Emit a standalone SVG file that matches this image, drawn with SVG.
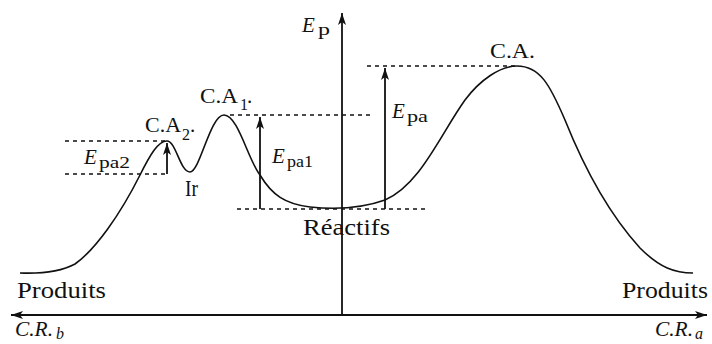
<svg xmlns="http://www.w3.org/2000/svg" width="712" height="344" viewBox="0 0 712 344">
<style>
.ax{stroke:#111;stroke-width:1.8;fill:none}
.cv{stroke:#111;stroke-width:1.6;fill:none}
.dash{stroke:#111;stroke-width:1.6;stroke-dasharray:4 4;fill:none}
.t{font-family:"Liberation Serif","Times New Roman",serif;font-size:23px;fill:#111}
.m{font-size:21px}
.i{font-style:italic}
.s{font-size:16px}
</style>
<defs>
<marker id="ah" markerUnits="userSpaceOnUse" markerWidth="14" markerHeight="10" refX="12" refY="4" orient="auto-start-reverse">
<path d="M0,0 L12,4 L0,8 L3,4 z" fill="#111"/>
</marker>
</defs>
<rect width="712" height="344" fill="#fff"/>
<g id="guides">
<line class="dash" x1="367" y1="66" x2="515" y2="66"/>
<line class="dash" x1="230" y1="115" x2="372" y2="115"/>
<line class="dash" x1="65" y1="141" x2="166" y2="141"/>
<line class="dash" x1="65" y1="174" x2="167" y2="174"/>
<line class="dash" x1="237" y1="209" x2="426" y2="209"/>
</g>
<g id="axes">
<line class="ax" x1="342" y1="315" x2="342" y2="13" marker-end="url(#ah)"/>
<line class="ax" x1="11" y1="315" x2="707" y2="315" marker-start="url(#ah)" marker-end="url(#ah)"/>
</g>
<g id="curve">
<path class="cv" d="M20,273 C45,274 62,271 75,264 C95,250 120,215 140,175 C150,155 158,141 167,141 C176,141 180,172 190,172 C200,172 210,115 224,115 C238,115 248,160 260,175 C272,195 285,204 310,207 C330,209 360,209 385,200 C420,185 440,135 465,100 C480,80 500,66 517,66 C540,66 550,85 565,120 C585,170 610,215 640,248 C660,268 675,273 693,273"/>
</g>
<g id="connectors">
<line class="ax" x1="167" y1="174" x2="167" y2="143" marker-end="url(#ah)"/>
<line class="ax" x1="260" y1="209" x2="260" y2="117" marker-end="url(#ah)"/>
<line class="ax" x1="385" y1="209" x2="385" y2="68" marker-end="url(#ah)"/>
</g>
<g id="label-ep">
<text class="t i m" x="302" y="32">E</text>
<text class="t s" x="318" y="35" textLength="12" lengthAdjust="spacingAndGlyphs">p</text>
</g>
<g id="node-ca">
<text class="t m" x="490" y="58" textLength="45" lengthAdjust="spacingAndGlyphs">C.A.</text>
</g>
<g id="node-ca1">
<text class="t m" x="200" y="103" textLength="38" lengthAdjust="spacingAndGlyphs">C.A</text>
<text class="t s" x="240" y="110">1</text>
<text class="t m" x="247" y="103">.</text>
</g>
<g id="node-ca2">
<text class="t m" x="145" y="132" textLength="36" lengthAdjust="spacingAndGlyphs">C.A</text>
<text class="t s" x="182" y="140">2</text>
<text class="t m" x="190" y="132">.</text>
</g>
<g id="label-epa">
<text class="t i m" x="392" y="118">E</text>
<text class="t s" x="407" y="122" textLength="21" lengthAdjust="spacingAndGlyphs">pa</text>
</g>
<g id="label-epa1">
<text class="t i m" x="272" y="163">E</text>
<text class="t s" x="287" y="167" textLength="26" lengthAdjust="spacingAndGlyphs">pa1</text>
</g>
<g id="label-epa2">
<text class="t i m" x="84" y="164">E</text>
<text class="t s" x="99" y="168" textLength="31" lengthAdjust="spacingAndGlyphs">pa2</text>
</g>
<g id="node-ir">
<text class="t" x="185" y="196" textLength="13" lengthAdjust="spacingAndGlyphs">Ir</text>
</g>
<g id="node-reactifs">
<text class="t" x="303" y="235" textLength="87" lengthAdjust="spacingAndGlyphs">Réactifs</text>
</g>
<g id="node-produits-b">
<text class="t" x="17" y="298" textLength="89" lengthAdjust="spacingAndGlyphs">Produits</text>
</g>
<g id="node-produits-a">
<text class="t" x="622" y="298" textLength="86" lengthAdjust="spacingAndGlyphs">Produits</text>
</g>
<g id="label-crb">
<text class="t i m" x="15" y="336" textLength="38" lengthAdjust="spacingAndGlyphs">C.R.</text>
<text class="t i s" x="56" y="339">b</text>
</g>
<g id="label-cra">
<text class="t i m" x="655" y="336" textLength="38" lengthAdjust="spacingAndGlyphs">C.R.</text>
<text class="t i s" x="695" y="339">a</text>
</g>
</svg>
